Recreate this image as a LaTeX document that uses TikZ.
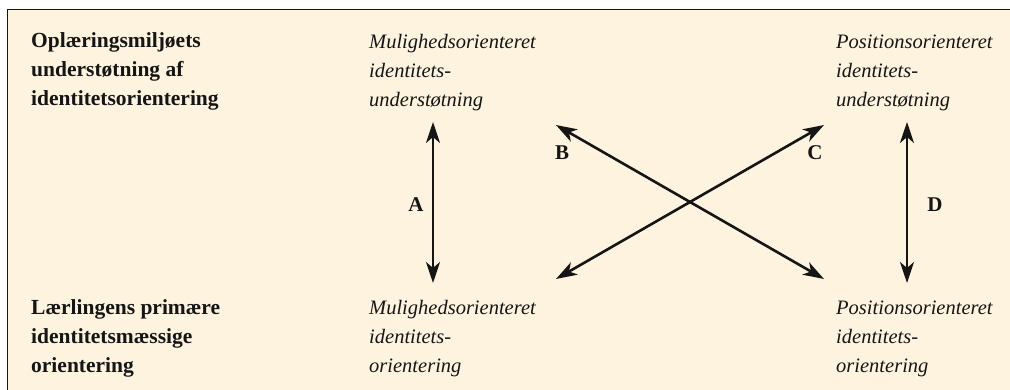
\documentclass[tikz,border=0pt]{standalone}
\usepackage{fontspec}
\setmainfont{Liberation Serif}
\usetikzlibrary{arrows.meta}
\definecolor{panelbg}{HTML}{FEF3DF}
\definecolor{ink}{HTML}{151515}
\begin{document}
\begin{tikzpicture}[x=1pt,y=-1pt,
  rowhead/.style={anchor=base west,inner sep=0pt,align=left,text=ink,
    font=\fontsize{21.5}{29}\selectfont\bfseries},
  celltext/.style={anchor=base west,inner sep=0pt,align=left,text=ink,
    font=\fontsize{20.5}{29}\selectfont\itshape},
  letter/.style={inner sep=0pt,text=ink,font=\fontsize{21}{25}\selectfont\bfseries},
  link/.style={line width=2.6pt,draw=ink,
    {Stealth[length=21pt,width=14pt,inset=6pt]}-{Stealth[length=21pt,width=14pt,inset=6pt]}}]
  \useasboundingbox (0,0) rectangle (1010,390);
  % panel with top and left rule
  \fill[panelbg] (7.5,9.5) rectangle (1012,392);
  \draw[ink,line width=1.6pt] (1012,9.5) -- (7.5,9.5) -- (7.5,392);

  % row headings (anchored at the baseline of their last line)
  \node[rowhead] (toprow) at (31,106) {Oplæringsmiljøets\\understøtning af\\identitetsorientering};
  \node[rowhead] (botrow) at (31,372) {Lærlingens primære\\identitetsmæssige\\orientering};

  % cells
  \node[celltext] (mu) at (369,107) {Mulighedsorienteret\\identitets-\\understøtning};
  \node[celltext] (pu) at (836,107) {Positionsorienteret\\identitets-\\understøtning};
  \node[celltext] (mo) at (369,372) {Mulighedsorienteret\\identitets-\\orientering};
  \node[celltext] (po) at (836,372) {Positionsorienteret\\identitets-\\orientering};

  % arrow end points
  \coordinate (aTop) at (433,122);
  \coordinate (aBot) at (433,283);
  \coordinate (dTop) at (907,122);
  \coordinate (dBot) at (907,283);
  \coordinate (xTL) at (556,125);
  \coordinate (xTR) at (824,125);
  \coordinate (xBL) at (556,279);
  \coordinate (xBR) at (824,279);

  \draw[link] (aTop) -- (aBot);
  \draw[link] (dTop) -- (dBot);
  \draw[link] (xTL) -- (xBR);
  \draw[link] (xTR) -- (xBL);

  % arrow labels
  \node[letter] (la) at (416,205) {A};
  \node[letter] (lb) at (562,153) {B};
  \node[letter] (lc) at (815,153) {C};
  \node[letter] (ld) at (935,205) {D};
\end{tikzpicture}
\end{document}
